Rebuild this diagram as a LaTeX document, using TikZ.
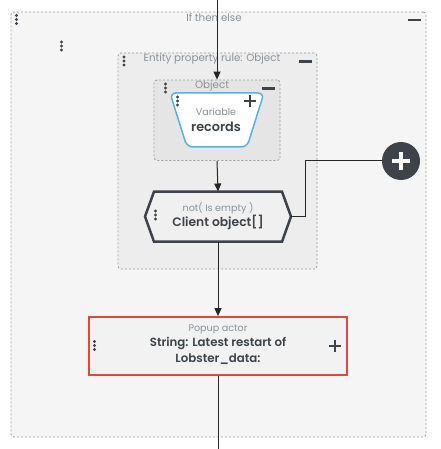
\documentclass[tikz,border=0pt]{standalone}
\usepackage{fontspec}
\setmainfont{Poppins}[BoldFont={Poppins SemiBold}]
\usetikzlibrary{arrows.meta}
\definecolor{dk}{HTML}{3D4349}
\definecolor{gtxt}{HTML}{8B9299}
\definecolor{dsh}{HTML}{9C9C9C}
\definecolor{blu}{HTML}{5AAFE3}
\definecolor{rd}{HTML}{E0483C}
\tikzset{
  cont/.style={draw=dsh, dash pattern=on 2pt off 2pt, line width=0.8pt, rounded corners=3pt, inner sep=0pt},
  ttl/.style={text=gtxt, font=\fontsize{10.3}{12}\selectfont, inner sep=0pt},
  sub/.style={text=gtxt, font=\fontsize{9.6}{11}\selectfont, inner sep=0pt},
  main/.style={text=dk, font=\fontsize{12}{16}\selectfont\bfseries, inner sep=0pt, align=center},
  conn/.style={draw=black!85, line width=1pt},
  arr/.style={conn, -{Triangle[length=8pt,width=7pt]}},
  minus/.style={draw=dk, line width=2.2pt},
  plus/.style={draw=dk, line width=2.4pt},
}
\newcommand{\vdotsicon}[2]{\fill[dk] (#1,#2) circle (1.6) (#1,#2+4) circle (1.6) (#1,#2+8) circle (1.6);}
\begin{document}
\begin{tikzpicture}[x=1pt,y=-1pt]
\useasboundingbox (0,0) rectangle (440,449);
% containers
\node[cont, fill=black!4, minimum width=415, minimum height=425] (ite) at (218.5,224.5) {};
\node[ttl] (itet) at (214,18) {If then else};
\draw[minus] (408,20) -- (421,20);
\vdotsicon{16.5}{15.5}
\vdotsicon{61.5}{42}
\node[cont, fill=black!7, minimum width=199, minimum height=216] (epr) at (217.5,161) {};
\node[ttl] (eprt) at (212,59) {Entity property rule: Object};
\draw[minus] (299,61.5) -- (312,61.5);
\vdotsicon{124}{57}
\node[cont, fill=black!10, minimum width=126, minimum height=80.5] (obj) at (217,120.25) {};
\node[ttl] (objt) at (212,86) {Object};
\draw[minus] (262,88.5) -- (275,88.5);
\vdotsicon{165.5}{84}
% variable trapezoid
\draw[blu, fill=white, line width=1.5pt, rounded corners=6pt] (170,93) -- (264,93) -- (247,147) -- (187,147) -- cycle;
\node[sub] (varl) at (216,112) {Variable};
\node[main, font=\fontsize{12.8}{14}\selectfont\bfseries] (var) at (216,127) {records};
\draw[plus] (244,101) -- (256,101) (250,95) -- (250,107);
\vdotsicon{177.5}{97}
% hexagon
\draw[dk, fill=black!6, line width=2.5pt, line join=miter] (145,216.5) -- (154,191.7) -- (282,191.7) -- (291,216.5) -- (282,241.7) -- (154,241.7) -- cycle;
\node[minimum width=146, minimum height=50, inner sep=0pt] (hex) at (218,216.7) {};
\node[sub] (hexl) at (218,208) {not( Is empty )};
\node[main, font=\fontsize{12.3}{14}\selectfont\bfseries] (hexm) at (218,222.5) {Client object[]};
\vdotsicon{155.5}{211}
% add button
\node[circle, fill=dk, minimum size=38, inner sep=0pt] (add) at (401,161) {};
\draw[white, line width=4.5pt] (392,161) -- (410,161) (401,152) -- (401,170);
% popup actor
\node[draw=rd, line width=1.8pt, fill=black!5, minimum width=258, minimum height=58, inner sep=0pt] (pop) at (218,346) {};
\node[sub] (popl) at (218,329) {Popup actor};
\node[main, font=\fontsize{11.8}{16}\selectfont\bfseries] (popm) at (218,351) {String: Latest restart of\\Lobster\_data:};
\draw[plus] (329,346) -- (341,346) (335,340) -- (335,352);
\vdotsicon{94.5}{341.5}
% connectors
\coordinate (top) at (217,0);
\coordinate (bot) at (218,449);
\draw[arr] (top) -- (obj.north);
\draw[arr] (obj.south) -- (hex.north);
\draw[arr] (hex.south) -- (pop.north);
\draw[conn] (pop.south) -- (bot);
\draw[conn] (hex.east) -| (305,161) -- (add.west);
\end{tikzpicture}
\end{document}
